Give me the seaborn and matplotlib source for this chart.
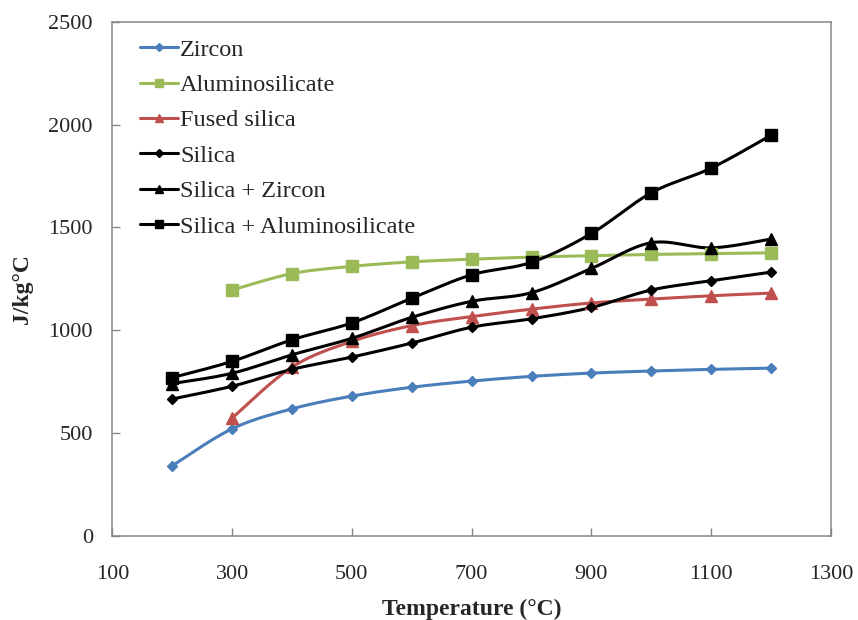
import numpy as np
import pandas as pd
import matplotlib
matplotlib.use("Agg")
import matplotlib.pyplot as plt
import seaborn as sns
from matplotlib.lines import Line2D

temps = [200, 300, 400, 500, 600, 700, 800, 900, 1000, 1100, 1200]
zircon = [340, 520, 617, 679, 722, 752, 775, 791, 801, 809, 815]
alumino_t = [300, 400, 500, 600, 700, 800, 900, 1000, 1100, 1200]
alumino = [1195, 1275, 1310, 1332, 1345, 1355, 1362, 1368, 1372, 1376]
fused_t = [300, 400, 500, 600, 700, 800, 900, 1000, 1100, 1200]
fused = [572, 820, 945, 1022, 1066, 1102, 1132, 1151, 1167, 1180]
silica = [665, 727, 809, 869, 937, 1014, 1055, 1110, 1195, 1240, 1282]
silica_zircon = [740, 790, 880, 960, 1062, 1140, 1182, 1300, 1425, 1400, 1443]
silica_alumino = [769, 848, 953, 1035, 1155, 1269, 1330, 1470, 1668, 1788, 1948]

series = [
    ("Zircon", temps, zircon, "#4a7ebb", "D", 5.5),
    ("Aluminosilicate", alumino_t, alumino, "#9bbb59", "s", 8.5),
    ("Fused silica", fused_t, fused, "#c0504d", "^", 8.5),
    ("Silica", temps, silica, "#000000", "D", 5.5),
    ("Silica + Zircon", temps, silica_zircon, "#000000", "^", 8.5),
    ("Silica + Aluminosilicate", temps, silica_alumino, "#000000", "s", 8.5),
]


def smooth(x, y, n=30):
    # Excel-like smoothed line: cubic Bezier with Catmull-Rom control points
    x = np.asarray(x, float)
    y = np.asarray(y, float)
    xs, ys = [x[0]], [y[0]]
    t = np.linspace(0, 1, n)[1:]
    for i in range(len(x) - 1):
        p0 = np.array([x[i], y[i]])
        p3 = np.array([x[i + 1], y[i + 1]])
        pm = np.array([x[i - 1], y[i - 1]]) if i > 0 else p0
        pp = np.array([x[i + 2], y[i + 2]]) if i + 2 < len(x) else p3
        c1 = p0 + (p3 - pm) / 6.0
        c2 = p3 - (pp - p0) / 6.0
        for tt in t:
            b = ((1 - tt) ** 3) * p0 + 3 * ((1 - tt) ** 2) * tt * c1 + 3 * (1 - tt) * tt ** 2 * c2 + tt ** 3 * p3
            xs.append(b[0])
            ys.append(b[1])
    return np.array(xs), np.array(ys)


sns.set_theme(style="white")
plt.rcParams["font.family"] = ["Liberation Serif", "DejaVu Serif"]
plt.rcParams["axes.unicode_minus"] = False

fig = plt.figure(figsize=(8.58, 6.2), dpi=100)
ax = fig.add_axes([112.3 / 858, (620 - 535.7) / 620, (831 - 112.3) / 858, (535.7 - 21.7) / 620])

handles = []
for name, xs, ys, color, marker, ms in series:
    sx, sy = smooth(xs, ys)
    df_line = pd.DataFrame({"x": sx, "y": sy})
    sns.lineplot(data=df_line, x="x", y="y", ax=ax, color=color, linewidth=2.2,
                 sort=False, estimator=None, zorder=2)
    df_pts = pd.DataFrame({"x": xs, "y": ys})
    ax.plot(df_pts["x"], df_pts["y"], linestyle="none", marker=marker, markersize=ms,
            color=color, markeredgecolor=color, zorder=3)
    handles.append(Line2D([0], [0], color=color, linewidth=2.2, marker=marker,
                          markersize=ms * 0.7, markeredgecolor=color, label=name))

ax.set_xlim(100, 1300)
ax.set_ylim(0, 2500)
ax.set_xticks([100, 300, 500, 700, 900, 1100, 1300])
ax.set_yticks([0, 500, 1000, 1500, 2000, 2500])
ax.tick_params(axis="both", direction="in", length=6, width=1, color="#868686",
               labelsize=16, pad=14, bottom=True, left=True)
ax.tick_params(axis="x", pad=21)
for sp in ax.spines.values():
    sp.set_color("#868686")
    sp.set_linewidth(1.1)

ax.set_xlabel("Temperature (°C)", fontsize=17, fontweight="bold", labelpad=11)
ax.set_ylabel("J/kg°C", fontsize=17, fontweight="bold", labelpad=11)
ax.yaxis.set_label_coords(-0.110, 0.48)

leg = ax.legend(handles=handles, loc="upper left", bbox_to_anchor=(0.015, 1.0),
                frameon=False, fontsize=17.5, handlelength=1.55, handletextpad=0.1,
                labelspacing=0.55, borderaxespad=0.3)

fig.savefig("out.png", dpi=100)
